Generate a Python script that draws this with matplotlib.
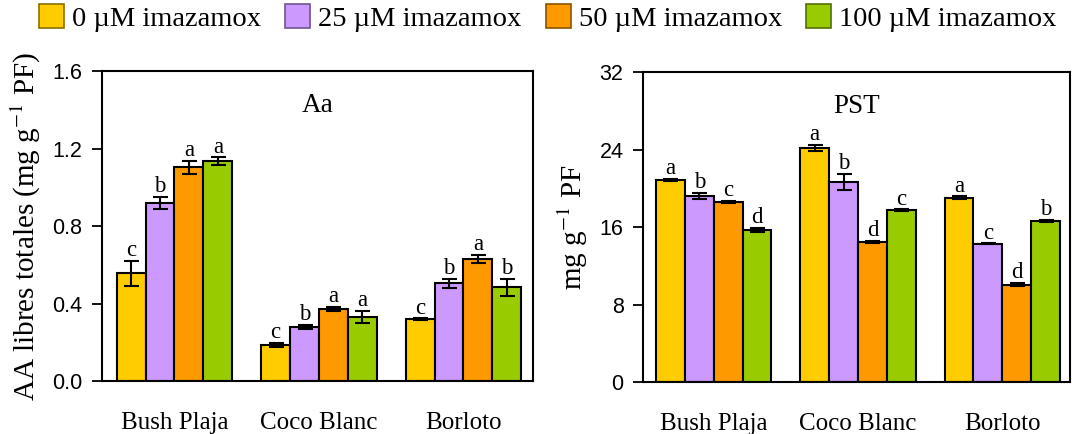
import matplotlib
matplotlib.use("Agg")
import matplotlib.pyplot as plt
import matplotlib.colors as mcolors
import numpy as np
from matplotlib.patches import Patch

plt.rcParams['font.family'] = ['Liberation Serif', 'DejaVu Serif']
plt.rcParams['mathtext.fontset'] = 'stix'

cultivars = ["Bush Plaja", "Coco Blanc", "Borloto"]
treatments = ["0 µM imazamox", "25 µM imazamox", "50 µM imazamox", "100 µM imazamox"]
colors = ["#FFCC00", "#CC99FF", "#FF9900", "#99CC00"]

# Aa panel (rows: treatments, cols: cultivars)
aa_vals = [[0.555, 0.186, 0.320],
           [0.919, 0.278, 0.505],
           [1.103, 0.373, 0.629],
           [1.134, 0.330, 0.483]]
aa_err = [[0.065, 0.012, 0.003],
          [0.030, 0.012, 0.023],
          [0.033, 0.010, 0.020],
          [0.020, 0.030, 0.043]]
aa_letters = [["c", "c", "c"],
              ["b", "b", "b"],
              ["a", "a", "a"],
              ["a", "a", "b"]]

# PST panel
pst_vals = [[20.85, 24.16, 19.00],
            [19.20, 20.61, 14.28],
            [18.55, 14.45, 10.05],
            [15.69, 17.72, 16.66]]
pst_err = [[0.15, 0.35, 0.15],
           [0.35, 0.83, 0.03],
           [0.10, 0.10, 0.15],
           [0.20, 0.10, 0.10]]
pst_letters = [["a", "a", "a"],
               ["b", "b", "c"],
               ["c", "d", "d"],
               ["d", "c", "b"]]

fig = plt.figure(figsize=(10.72, 4.34), dpi=100)
ax1 = fig.add_axes([0.0951, 0.1221, 0.4021, 0.7143])
ax2 = fig.add_axes([0.5998, 0.1198, 0.3983, 0.7143])

def draw(ax, vals, errs, letters, ylim, yticks, ticklabels, title, ylabel, xlim):
    x = np.arange(len(cultivars))
    w = 0.2
    for i in range(len(treatments)):
        xs = x + (i - 1.5) * w
        ax.bar(xs, vals[i], width=w, color=colors[i], edgecolor="black",
               linewidth=1.5, zorder=2)
        ax.errorbar(xs, vals[i], yerr=errs[i], fmt="none", ecolor="black",
                    elinewidth=1.5, capsize=5.4, capthick=1.5, zorder=3)
        for xx, v, e, l in zip(xs, vals[i], errs[i], letters[i]):
            ax.annotate(l, (xx, v + e), xytext=(0, 3.5), textcoords="offset points",
                        ha="center", va="baseline", fontsize=16.5)
    ax.set_ylim(*ylim)
    ax.set_xlim(*xlim)
    ax.set_yticks(yticks)
    ax.set_yticklabels(ticklabels, fontfamily="Liberation Sans", fontsize=15.5)
    ax.set_xticks(x)
    ax.set_xticklabels(cultivars, fontsize=18)
    ax.tick_params(axis="x", length=0, pad=22)
    ax.tick_params(axis="y", direction="out", length=7, width=1.3, pad=7)
    for s in ax.spines.values():
        s.set_linewidth(1.5)
    ax.text(0.5, 0.89, title, transform=ax.transAxes, ha="center", va="center",
            fontsize=19.5)
    ax.set_ylabel(ylabel, fontsize=21, labelpad=7)

draw(ax1, aa_vals, aa_err, aa_letters, (0, 1.6), [0, 0.4, 0.8, 1.2, 1.6],
     ["0.0", "0.4", "0.8", "1.2", "1.6"], "Aa",
     "AA libres totales (mg g$^{-1}$ PF)", (-0.502, 2.481))
draw(ax2, pst_vals, pst_err, pst_letters, (0, 32), [0, 8, 16, 24, 32],
     ["0", "8", "16", "24", "32"], "PST", "mg g$^{-1}$ PF", (-0.49, 2.469))

def darker(c, f=0.55):
    r, g, b = mcolors.to_rgb(c)
    return (r * f, g * f, b * f)

handles = [Patch(facecolor=c, edgecolor=darker(c), linewidth=1.2) for c in colors]
fig.legend(handles, treatments, loc="center", bbox_to_anchor=(0.511, 0.958), ncol=4,
           frameon=False, fontsize=20.5, handlelength=0.88, handleheight=0.88,
           handletextpad=0.28, columnspacing=0.84, borderaxespad=0, borderpad=0)

fig.savefig("out.png", dpi=100)
